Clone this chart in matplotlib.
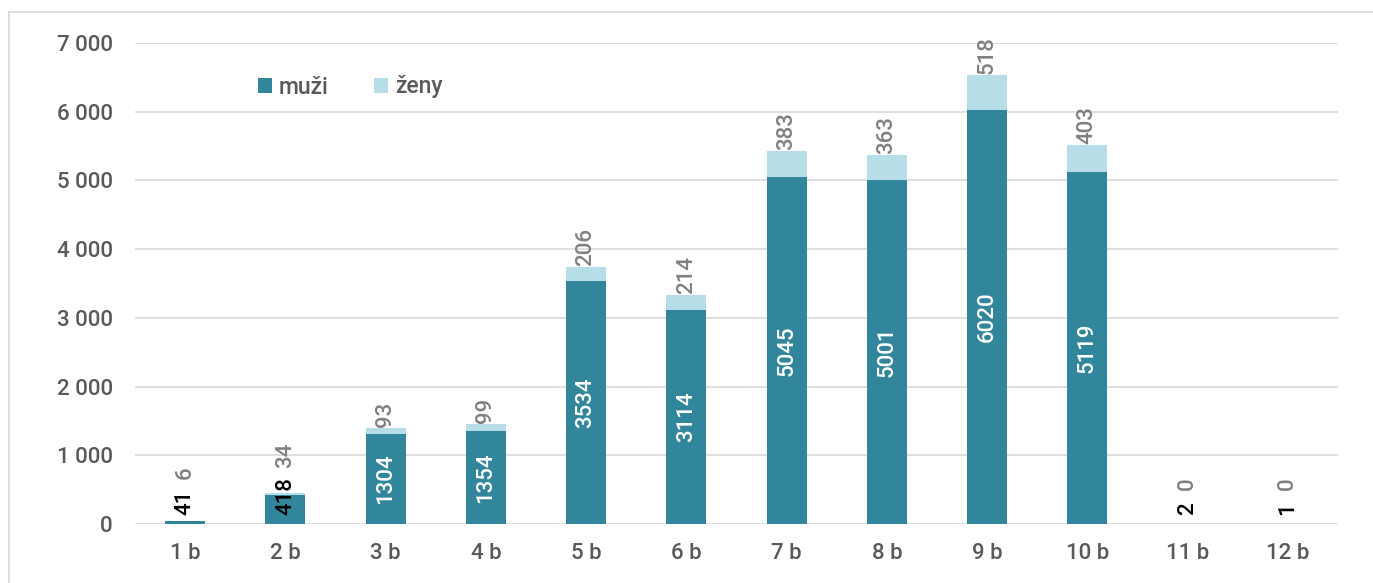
import matplotlib
matplotlib.use("Agg")
import matplotlib.pyplot as plt
from matplotlib.lines import Line2D
from matplotlib.ticker import FuncFormatter, MultipleLocator
import numpy as np

categories = ["1 b", "2 b", "3 b", "4 b", "5 b", "6 b", "7 b", "8 b", "9 b", "10 b", "11 b", "12 b"]
muzi = [41, 418, 1304, 1354, 3534, 3114, 5045, 5001, 6020, 5119, 2, 1]
zeny = [6, 34, 93, 99, 206, 214, 383, 363, 518, 403, 0, 0]

C_MUZI = "#31869B"
C_ZENY = "#B7DEE8"
C_GRID = "#D9D9D9"
C_TEXT = "#595959"
C_ZLAB = "#808080"

plt.rcParams['font.family'] = ['Roboto', 'DejaVu Sans']
plt.rcParams['font.weight'] = 'medium'

W, H = 1373, 583
fig = plt.figure(figsize=(W / 100, H / 100), dpi=100)
ax = fig.add_axes([135 / W, 1 - 524 / H, (1338 - 135) / W, (524 - 43) / H])

x = np.arange(len(categories))
bw = 0.4
ax.bar(x, muzi, width=bw, color=C_MUZI, zorder=3, label="muži")
ax.bar(x, zeny, width=bw, bottom=muzi, color=C_ZENY, zorder=3, label="ženy")

ax.set_xlim(-0.5, len(categories) - 0.5)
ax.set_ylim(0, 7000)
ax.yaxis.set_major_locator(MultipleLocator(1000))
ax.yaxis.set_major_formatter(FuncFormatter(lambda v, p: f"{int(v):,}".replace(",", " ")))
ax.set_xticks(x)
ax.set_xticklabels(categories)
ax.tick_params(axis='both', length=0, labelsize=16, labelcolor=C_TEXT)
ax.tick_params(axis='y', pad=16)
ax.tick_params(axis='x', pad=14)
for s in ax.spines.values():
    s.set_visible(False)
ax.grid(axis='y', color=C_GRID, linewidth=1.2, zorder=0)
ax.set_axisbelow(True)

# data labels
LS = 16
px_per_unit = (524 - 43) / 7000.0
digit_px = 11.0
for i, (m, z) in enumerate(zip(muzi, zeny)):
    s = str(m)
    lab_len = digit_px * len(s)
    fits = m * px_per_unit > lab_len + 8
    if fits:
        ax.text(i, m / 2, s, rotation=90, ha='center', va='center',
                color='white', fontsize=LS, zorder=4)
        zb = m + z + 15
    else:
        base = 130
        ax.text(i, base, s, rotation=90, ha='center', va='bottom',
                color='black', fontsize=LS, zorder=4)
        top = base + lab_len / px_per_unit
        zb = max(m + z + 15, top + 200)
    ax.text(i, zb, str(z), rotation=90, ha='center', va='bottom',
            color=C_ZLAB, fontsize=LS, zorder=4)

leg = ax.legend(loc='center left', bbox_to_anchor=(258 / W, 1 - 87 / H),
                bbox_transform=fig.transFigure, ncol=2, frameon=False,
                fontsize=16.5, handlelength=0.6, handleheight=0.6,
                handletextpad=0.3, columnspacing=2.0, borderpad=0,
                borderaxespad=0)
for t in leg.get_texts():
    t.set_color(C_TEXT)

# chart border (top and left visible)
fig.add_artist(Line2D([9 / W, 9 / W], [0, 1 - 12 / H], transform=fig.transFigure,
                      color=C_GRID, linewidth=1.2))
fig.add_artist(Line2D([9 / W, 1], [1 - 12 / H, 1 - 12 / H], transform=fig.transFigure,
                      color=C_GRID, linewidth=1.2))

fig.savefig("out.png", dpi=100)
